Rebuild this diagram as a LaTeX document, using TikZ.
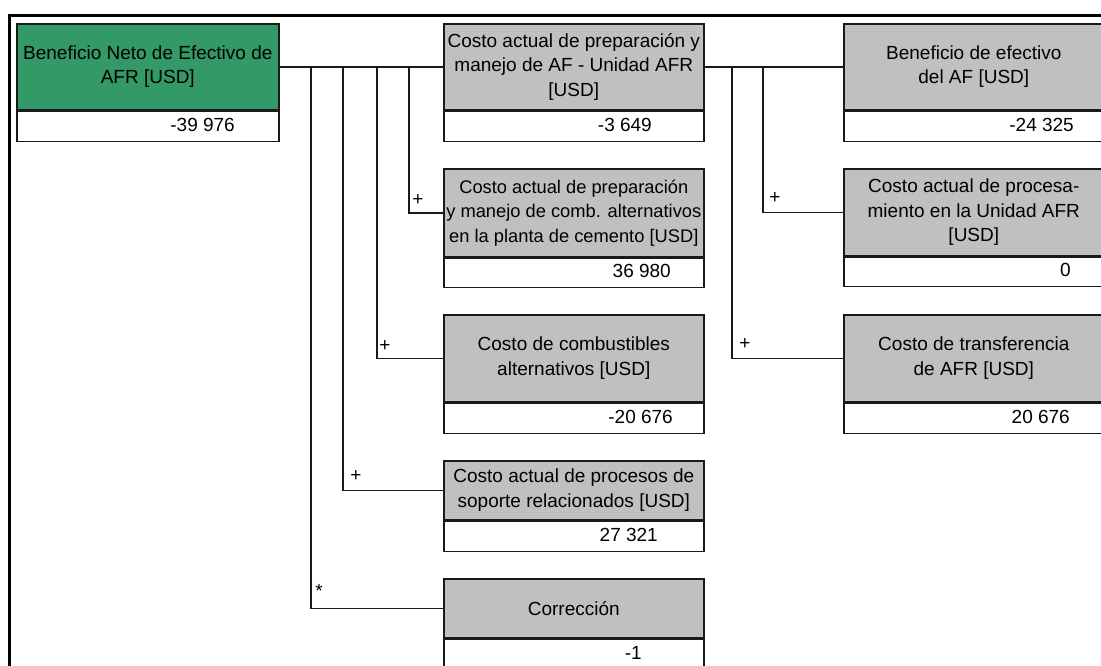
\documentclass[tikz,border=0pt]{standalone}
\usepackage{fontspec}
\setmainfont{Liberation Sans}
\definecolor{headgreen}{HTML}{339966}
\definecolor{headgray}{HTML}{C0C0C0}
\definecolor{edge}{HTML}{1A1A1A}
\begin{document}
\begin{tikzpicture}[x=1pt,y=-1pt,
  txt/.style={font=\fontsize{19}{24.5}\selectfont},
  head/.style={draw=edge, line width=1.6pt, anchor=north west, inner sep=0pt,
    align=center, txt},
  valbox/.style={draw=edge, line width=1.6pt, anchor=north west, inner sep=0pt,
    fill=white},
  num/.style={anchor=east, inner sep=0pt, txt},
  wire/.style={draw=edge, line width=1.6pt},
  sign/.style={inner sep=0pt, font=\fontsize{19}{19}\selectfont}]
\useasboundingbox (0,0) rectangle (1101,665);
\clip (0,0) rectangle (1101,665);
\fill[white] (0,0) rectangle (1101,665);
% outer frame (top and left edges)
\draw[line width=2.8pt] (9.3,700) -- (9.3,15.5) -- (1120,15.5);

% root
\node[head, fill=headgreen, minimum width=262pt, minimum height=86pt] (root) at (16,23)
  {Beneficio Neto de Efectivo de\\AFR [USD]};
\node[valbox, minimum width=262pt, minimum height=30pt] (rootv) at (root.south west) {};
\node[num] (rootn) at (235,125) {-39 976};

% middle column
\node[head, fill=headgray, minimum width=260pt, minimum height=86pt] (m1) at (443,23)
  {Costo actual de preparación y\\manejo de AF - Unidad AFR\\{[USD]}};
\node[valbox, minimum width=260pt, minimum height=30pt] (m1v) at (m1.south west) {};
\node[num] (m1n) at (652,125) {-3 649};

\node[head, fill=headgray, minimum width=260pt, minimum height=88pt,
  font=\fontsize{18.3}{24.5}\selectfont] (m2) at (443,168)
  {Costo actual de preparación\\\makebox[250pt]{y manejo de comb. alternativos}\\en la planta de cemento [USD]};
\node[valbox, minimum width=260pt, minimum height=29pt] (m2v) at (m2.south west) {};
\node[num] (m2n) at (671,270.5) {36 980};

\node[head, fill=headgray, minimum width=260pt, minimum height=87pt] (m3) at (443,314)
  {Costo de combustibles\\alternativos [USD]};
\node[valbox, minimum width=260pt, minimum height=30pt] (m3v) at (m3.south west) {};
\node[num] (m3n) at (673,417) {-20 676};

\node[head, fill=headgray, minimum width=260pt, minimum height=59pt] (m4) at (443,460)
  {Costo actual de procesos de\\soporte relacionados [USD]};
\node[valbox, minimum width=260pt, minimum height=30pt] (m4v) at (m4.south west) {};
\node[num] (m4n) at (658,534.5) {27 321};

\node[head, fill=headgray, minimum width=260pt, minimum height=59pt] (m5) at (443,578)
  {Corrección};
\node[valbox, minimum width=260pt, minimum height=30pt] (m5v) at (m5.south west) {};
\node[num] (m5n) at (642,652.5) {-1};

% right column
\node[head, fill=headgray, minimum width=260pt, minimum height=86pt] (r1) at (843,23)
  {Beneficio de efectivo\\del AF [USD]};
\node[valbox, minimum width=260pt, minimum height=30pt] (r1v) at (r1.south west) {};
\node[num] (r1n) at (1074,125) {-24 325};

\node[head, fill=headgray, minimum width=260pt, minimum height=87pt] (r2) at (843,168)
  {Costo actual de procesa-\\miento en la Unidad AFR\\{[USD]}};
\node[valbox, minimum width=260pt, minimum height=29pt] (r2v) at (r2.south west) {};
\node[num] (r2n) at (1071,270) {0};

\node[head, fill=headgray, minimum width=260pt, minimum height=87pt] (r3) at (843,314)
  {Costo de transferencia\\de AFR [USD]};
\node[valbox, minimum width=260pt, minimum height=30pt] (r3v) at (r3.south west) {};
\node[num] (r3n) at (1070,417) {20 676};

% branch points on the horizontal buses
\coordinate (b5) at (311,66);
\coordinate (b4) at (343,66);
\coordinate (b3) at (377,66);
\coordinate (b2) at (409,66);
\coordinate (c3) at (732,66);
\coordinate (c2) at (763,66);

% connectors
\draw[wire] (root.east) -- (m1.west);
\draw[wire] (b2) |- (m2.west);
\draw[wire] (b3) |- (m3.west);
\draw[wire] (b4) |- (m4.west);
\draw[wire] (b5) |- (m5.west);
\draw[wire] (m1.east) -- (r1.west);
\draw[wire] (c2) |- (r2.west);
\draw[wire] (c3) |- (r3.west);

% operators
\node[sign] (s2) at (418,200) {+};
\node[sign] (s3) at (385,346) {+};
\node[sign] (s4) at (356,476) {+};
\node[sign] (s5) at (319,591) {*};
\node[sign] (t2) at (775,198) {+};
\node[sign] (t3) at (745,344) {+};
\end{tikzpicture}
\end{document}
